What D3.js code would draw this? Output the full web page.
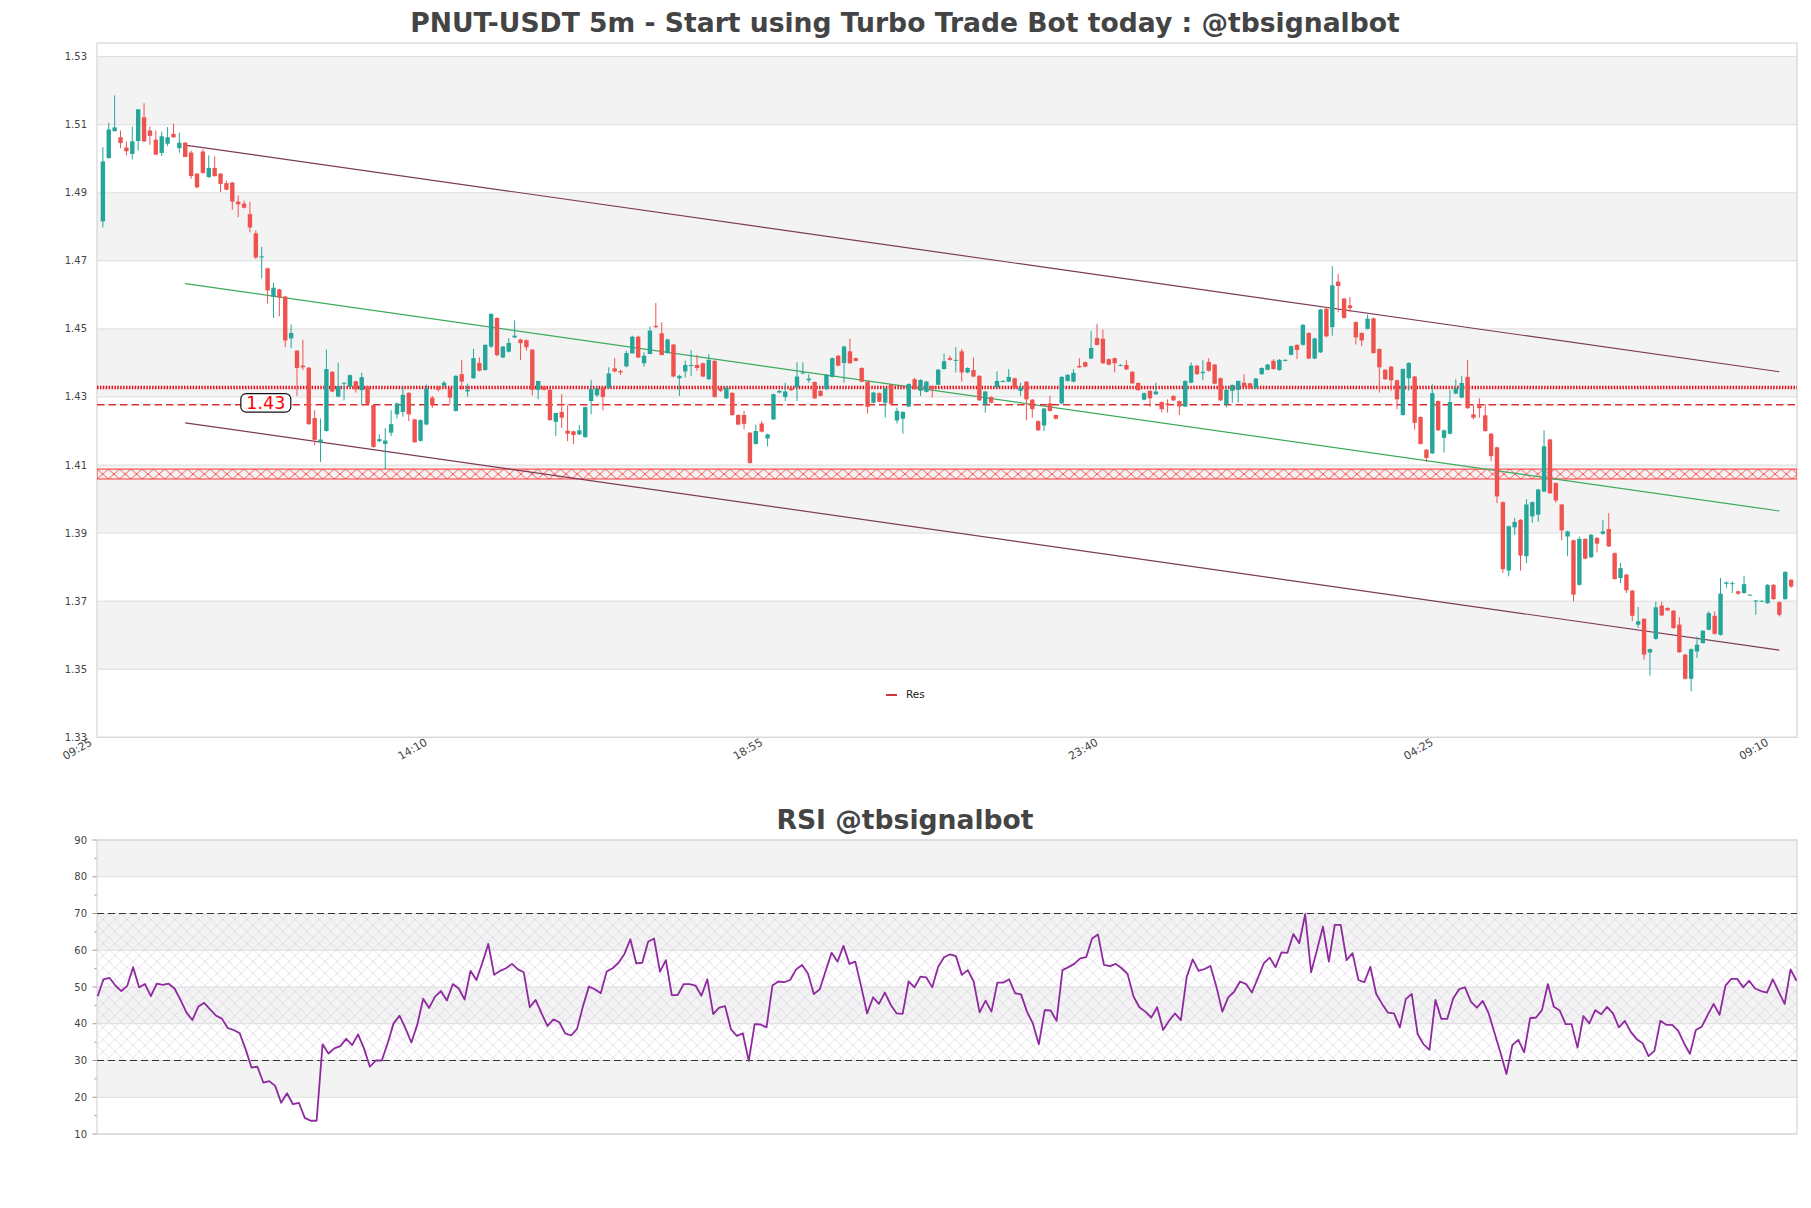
<!DOCTYPE html>
<html><head><meta charset="utf-8">
<script src="https://cdn.jsdelivr.net/npm/d3@7"></script>
<style>body{margin:0;background:#fff;} svg{display:block;font-family:"DejaVu Sans",sans-serif;}</style>
</head><body><svg id="c" width="1811" height="1208"></svg>
<script>
// ---------- DATA ----------
const open=[
1.4816,1.5002,1.5081,1.5063,1.5033,1.5014,1.5052,1.5122,1.5083,1.5056,
1.5017,1.5044,1.5073,1.5031,1.5047,1.5018,1.4956,1.5021,1.4946,1.4973,
1.4956,1.4928,1.4930,1.4874,1.4868,1.4837,1.4781,1.4710,1.4678,1.4594,
1.4616,1.4595,1.4472,1.4436,1.4392,1.4386,1.4238,1.4168,1.4200,1.4374,
1.4301,1.4340,1.4330,1.4346,1.4320,1.4331,1.4276,1.4170,1.4162,1.4195,
1.4249,1.4256,1.4312,1.4234,1.4171,1.4219,1.4298,1.4328,1.4333,1.4323,
1.4259,1.4367,1.4316,1.4355,1.4400,1.4379,1.4448,1.4532,1.4416,1.4433,
1.4475,1.4469,1.4467,1.4439,1.4321,1.4331,1.4321,1.4227,1.4256,1.4201,
1.4199,1.4190,1.4182,1.4288,1.4305,1.4328,1.4326,1.4384,1.4376,1.4390,
1.4428,1.4477,1.4399,1.4426,1.4509,1.4487,1.4429,1.4454,1.4355,1.4375,
1.4391,1.4394,1.4399,1.4352,1.4406,1.4326,1.4296,1.4312,1.4247,1.4247,
1.4195,1.4162,1.4222,1.4178,1.4234,1.4313,1.4300,1.4325,1.4328,1.4369,
1.4349,1.4344,1.4318,1.4323,1.4359,1.4421,1.4400,1.4434,1.4414,1.4385,
1.4345,1.4283,1.4311,1.4283,1.4336,1.4231,1.4236,1.4272,1.4352,1.4318,
1.4315,1.4332,1.4336,1.4382,1.4414,1.4406,1.4434,1.4372,1.4379,1.4362,
1.4278,1.4300,1.4328,1.4345,1.4345,1.4355,1.4318,1.4345,1.4292,1.4229,
1.4216,1.4281,1.4247,1.4281,1.4347,1.4345,1.4391,1.4402,1.4413,1.4473,
1.4471,1.4411,1.4414,1.4392,1.4394,1.4374,1.4341,1.4292,1.4318,1.4308,
1.4285,1.4281,1.4303,1.4288,1.4272,1.4342,1.4392,1.4370,1.4403,1.4395,
1.4355,1.4278,1.4318,1.4321,1.4342,1.4340,1.4326,1.4367,1.4380,1.4406,
1.4379,1.4406,1.4424,1.4453,1.4453,1.4488,1.4413,1.4431,1.4559,1.4505,
1.4639,1.4589,1.4569,1.4520,1.4488,1.4500,1.4531,1.4441,1.4380,1.4389,
1.4349,1.4247,1.4355,1.4360,1.4241,1.4145,1.4134,1.4288,1.4180,1.4192,
1.4310,1.4298,1.4359,1.4249,1.4275,1.4246,1.4192,1.4152,1.3991,1.3790,
1.3917,1.3939,1.3832,1.3949,1.3954,1.4022,1.4175,1.4047,1.3984,1.3890,
1.3879,1.3748,1.3883,1.3829,1.3886,1.3898,1.3912,1.3841,1.3768,1.3778,
1.3731,1.3631,1.3648,1.3549,1.3589,1.3687,1.3680,1.3672,1.3631,1.3543,
1.3472,1.3552,1.3577,1.3616,1.3657,1.3601,1.3751,1.3750,1.3729,1.3724,
1.3719,1.3702,1.3701,1.3694,1.3748,1.3697,1.3706,1.3763];
const high=[
1.5034,1.5106,1.5186,1.5083,1.5051,1.5095,1.5145,1.5163,1.5095,1.5083,
1.5080,1.5093,1.5103,1.5076,1.5049,1.5024,1.4958,1.5028,1.5010,1.5007,
1.4958,1.4936,1.4932,1.4892,1.4877,1.4873,1.4790,1.4741,1.4680,1.4636,
1.4618,1.4597,1.4513,1.4438,1.4468,1.4388,1.4261,1.4237,1.4439,1.4376,
1.4401,1.4343,1.4366,1.4348,1.4371,1.4333,1.4278,1.4190,1.4208,1.4261,
1.4283,1.4331,1.4314,1.4236,1.4234,1.4337,1.4303,1.4333,1.4347,1.4328,
1.4364,1.4409,1.4339,1.4441,1.4416,1.4455,1.4546,1.4534,1.4450,1.4473,
1.4525,1.4471,1.4469,1.4441,1.4347,1.4333,1.4323,1.4253,1.4308,1.4275,
1.4201,1.4217,1.4272,1.4350,1.4330,1.4328,1.4387,1.4414,1.4380,1.4436,
1.4480,1.4480,1.4431,1.4507,1.4576,1.4519,1.4471,1.4456,1.4365,1.4407,
1.4438,1.4423,1.4401,1.4426,1.4408,1.4330,1.4330,1.4314,1.4249,1.4259,
1.4197,1.4219,1.4229,1.4192,1.4310,1.4320,1.4342,1.4327,1.4402,1.4402,
1.4367,1.4346,1.4320,1.4367,1.4416,1.4423,1.4451,1.4471,1.4416,1.4387,
1.4347,1.4315,1.4313,1.4327,1.4338,1.4269,1.4258,1.4340,1.4357,1.4352,
1.4347,1.4334,1.4382,1.4428,1.4421,1.4446,1.4441,1.4387,1.4416,1.4364,
1.4318,1.4302,1.4375,1.4349,1.4382,1.4357,1.4342,1.4347,1.4294,1.4231,
1.4268,1.4303,1.4249,1.4361,1.4367,1.4382,1.4414,1.4404,1.4493,1.4515,
1.4498,1.4413,1.4416,1.4396,1.4408,1.4376,1.4343,1.4313,1.4320,1.4342,
1.4287,1.4293,1.4305,1.4290,1.4349,1.4402,1.4394,1.4408,1.4414,1.4397,
1.4357,1.4323,1.4337,1.4349,1.4367,1.4342,1.4356,1.4387,1.4397,1.4411,
1.4411,1.4411,1.4451,1.4455,1.4514,1.4490,1.4474,1.4559,1.4564,1.4684,
1.4661,1.4591,1.4594,1.4522,1.4490,1.4542,1.4533,1.4443,1.4382,1.4391,
1.4351,1.4384,1.4402,1.4362,1.4243,1.4147,1.4337,1.4290,1.4204,1.4320,
1.4352,1.4362,1.4409,1.4278,1.4296,1.4278,1.4194,1.4154,1.3993,1.3922,
1.3944,1.3941,1.4000,1.3993,1.4030,1.4202,1.4177,1.4049,1.3986,1.3907,
1.3881,1.3890,1.3885,1.3897,1.3888,1.3939,1.3959,1.3843,1.3812,1.3780,
1.3733,1.3683,1.3650,1.3561,1.3699,1.3699,1.3682,1.3674,1.3653,1.3545,
1.3561,1.3596,1.3615,1.3670,1.3670,1.3768,1.3758,1.3758,1.3731,1.3775,
1.3720,1.3703,1.3702,1.3750,1.3750,1.3699,1.3788,1.3765];
const low=[
1.4798,1.5000,1.5080,1.5031,1.5010,1.4998,1.5024,1.5049,1.5041,1.5012,
1.5008,1.5037,1.5061,1.5018,1.5005,1.4941,1.4913,1.4956,1.4944,1.4947,
1.4902,1.4907,1.4850,1.4828,1.4854,1.4784,1.4705,1.4648,1.4574,1.4532,
1.4537,1.4446,1.4443,1.4303,1.4379,1.4218,1.4158,1.4109,1.4198,1.4314,
1.4299,1.4290,1.4328,1.4313,1.4278,1.4278,1.4151,1.4168,1.4088,1.4185,
1.4237,1.4242,1.4229,1.4165,1.4169,1.4217,1.4268,1.4316,1.4328,1.4280,
1.4257,1.4321,1.4301,1.4353,1.4375,1.4377,1.4444,1.4419,1.4414,1.4431,
1.4473,1.4408,1.4436,1.4305,1.4293,1.4319,1.4230,1.4185,1.4209,1.4170,
1.4162,1.4188,1.4180,1.4249,1.4300,1.4261,1.4326,1.4372,1.4365,1.4387,
1.4428,1.4414,1.4389,1.4426,1.4503,1.4423,1.4427,1.4358,1.4303,1.4357,
1.4362,1.4377,1.4358,1.4350,1.4298,1.4315,1.4294,1.4245,1.4217,1.4205,
1.4104,1.4160,1.4196,1.4155,1.4232,1.4311,1.4288,1.4318,1.4288,1.4367,
1.4342,1.4294,1.4301,1.4321,1.4357,1.4390,1.4342,1.4397,1.4404,1.4343,
1.4251,1.4281,1.4284,1.4239,1.4278,1.4222,1.4192,1.4270,1.4321,1.4303,
1.4313,1.4298,1.4334,1.4380,1.4407,1.4372,1.4345,1.4370,1.4358,1.4288,
1.4254,1.4281,1.4326,1.4343,1.4343,1.4323,1.4303,1.4232,1.4239,1.4200,
1.4200,1.4257,1.4234,1.4279,1.4345,1.4343,1.4385,1.4387,1.4411,1.4451,
1.4397,1.4393,1.4372,1.4390,1.4379,1.4338,1.4318,1.4290,1.4271,1.4306,
1.4254,1.4254,1.4288,1.4247,1.4270,1.4340,1.4365,1.4349,1.4374,1.4337,
1.4288,1.4269,1.4283,1.4283,1.4329,1.4324,1.4324,1.4365,1.4378,1.4380,
1.4377,1.4404,1.4422,1.4411,1.4451,1.4411,1.4411,1.4429,1.4475,1.4480,
1.4549,1.4530,1.4549,1.4454,1.4449,1.4498,1.4427,1.4313,1.4350,1.4318,
1.4264,1.4245,1.4318,1.4204,1.4160,1.4109,1.4132,1.4200,1.4136,1.4190,
1.4308,1.4296,1.4265,1.4234,1.4239,1.4198,1.4111,1.3988,1.3783,1.3773,
1.3895,1.3790,1.3812,1.3930,1.3933,1.4020,1.4015,1.3990,1.3879,1.3832,
1.3699,1.3746,1.3823,1.3827,1.3843,1.3895,1.3859,1.3763,1.3753,1.3724,
1.3641,1.3621,1.3528,1.3481,1.3587,1.3656,1.3671,1.3619,1.3548,1.3470,
1.3435,1.3533,1.3575,1.3614,1.3602,1.3599,1.3739,1.3724,1.3718,1.3722,
1.3718,1.3660,1.3700,1.3692,1.3704,1.3655,1.3704,1.3739];
const close=[
1.4992,1.5086,1.5092,1.5046,1.5022,1.5051,1.5145,1.5051,1.5067,1.5012,
1.5066,1.5063,1.5063,1.5047,1.5005,1.4949,1.4916,1.4958,1.4973,1.4949,
1.4926,1.4909,1.4874,1.4866,1.4856,1.4798,1.4710,1.4713,1.4613,1.4621,
1.4592,1.4466,1.4488,1.4385,1.4387,1.4220,1.4174,1.4175,1.4382,1.4316,
1.4332,1.4342,1.4364,1.4322,1.4358,1.4280,1.4153,1.4176,1.4172,1.4220,
1.4281,1.4306,1.4249,1.4167,1.4232,1.4325,1.4278,1.4321,1.4342,1.4298,
1.4362,1.4345,1.4321,1.4414,1.4377,1.4453,1.4544,1.4423,1.4448,1.4459,
1.4480,1.4458,1.4446,1.4321,1.4347,1.4321,1.4232,1.4253,1.4239,1.4192,
1.4188,1.4202,1.4270,1.4323,1.4325,1.4300,1.4369,1.4375,1.4372,1.4429,
1.4477,1.4416,1.4421,1.4495,1.4505,1.4423,1.4469,1.4360,1.4362,1.4394,
1.4394,1.4385,1.4360,1.4409,1.4300,1.4318,1.4328,1.4247,1.4219,1.4221,
1.4106,1.4200,1.4198,1.4190,1.4308,1.4318,1.4316,1.4320,1.4360,1.4372,
1.4354,1.4296,1.4303,1.4365,1.4414,1.4392,1.4448,1.4399,1.4406,1.4345,
1.4271,1.4313,1.4286,1.4325,1.4280,1.4259,1.4256,1.4338,1.4323,1.4350,
1.4345,1.4323,1.4380,1.4405,1.4409,1.4409,1.4372,1.4385,1.4360,1.4290,
1.4316,1.4283,1.4347,1.4347,1.4359,1.4325,1.4328,1.4293,1.4264,1.4202,
1.4266,1.4259,1.4236,1.4359,1.4365,1.4371,1.4387,1.4389,1.4444,1.4453,
1.4399,1.4395,1.4399,1.4394,1.4381,1.4340,1.4320,1.4311,1.4296,1.4316,
1.4264,1.4277,1.4290,1.4272,1.4347,1.4392,1.4367,1.4374,1.4377,1.4339,
1.4290,1.4321,1.4335,1.4347,1.4331,1.4326,1.4354,1.4385,1.4395,1.4382,
1.4409,1.4409,1.4449,1.4438,1.4512,1.4413,1.4472,1.4557,1.4478,1.4628,
1.4626,1.4532,1.4561,1.4475,1.4466,1.4530,1.4429,1.4387,1.4352,1.4349,
1.4293,1.4382,1.4400,1.4224,1.4162,1.4121,1.4311,1.4202,1.4202,1.4285,
1.4326,1.4341,1.4267,1.4239,1.4267,1.4200,1.4126,1.4008,1.3794,1.3920,
1.3933,1.3834,1.3984,1.3991,1.4028,1.4155,1.4017,1.3996,1.3908,1.3905,
1.3719,1.3883,1.3825,1.3895,1.3869,1.3905,1.3861,1.3765,1.3797,1.3732,
1.3657,1.3641,1.3543,1.3559,1.3682,1.3658,1.3673,1.3621,1.3550,1.3472,
1.3559,1.3572,1.3613,1.3665,1.3604,1.3722,1.3755,1.3753,1.3722,1.3750,
1.3719,1.3702,1.3701,1.3748,1.3706,1.3660,1.3786,1.3743];
const rsi=[
47.5,52.1,52.5,50.4,48.9,50.3,55.4,49.9,50.8,47.5,
50.9,50.6,50.9,49.6,46.5,43.1,41.0,44.6,45.7,43.9,
42.2,41.4,38.8,38.3,37.4,33.1,28.1,28.3,24.0,24.4,
23.1,18.5,21.1,18.1,18.5,14.4,13.6,13.6,34.4,31.9,
33.3,33.9,35.9,34.2,37.1,33.3,28.3,30.0,30.0,34.7,
40.1,42.2,38.8,34.9,39.7,46.8,44.3,47.4,48.9,46.3,
50.8,49.6,46.6,54.4,51.9,56.6,61.7,53.3,54.4,55.1,
56.3,54.8,54.0,44.5,46.5,42.8,39.4,41.2,40.4,37.4,
36.8,38.6,44.8,50.1,49.4,48.3,54.2,55.1,56.6,59.0,
63.0,56.4,56.6,62.3,63.2,54.2,57.3,47.8,47.8,50.8,
50.8,50.4,47.6,52.1,42.6,44.4,44.8,38.5,36.7,37.4,
29.9,39.9,39.8,39.0,50.4,51.5,51.3,51.9,54.8,56.0,
53.7,48.1,49.4,54.4,59.3,56.9,61.2,56.3,56.9,50.1,
42.8,47.2,45.4,48.5,45.1,42.8,42.7,51.5,49.9,52.8,
52.6,49.9,55.5,58.1,58.9,58.4,53.3,54.6,51.5,43.1,
46.3,43.3,51.2,51.2,52.1,48.3,48.0,43.3,40.1,34.4,
43.7,43.6,40.8,54.6,55.4,56.3,57.8,58.1,63.2,64.3,
56.0,55.7,56.3,55.1,53.5,47.4,44.5,43.3,41.7,44.5,
38.3,40.8,42.8,41.0,52.8,57.5,54.4,54.9,55.7,50.1,
43.3,47.2,48.7,51.5,50.8,48.5,52.4,56.4,58.0,55.4,
59.4,59.3,64.4,61.9,69.8,54.0,60.1,66.4,56.9,66.9,
66.9,57.3,59.2,51.9,51.3,55.5,48.1,45.4,43.0,42.8,
39.0,46.7,48.1,37.2,34.4,32.9,46.5,41.3,41.3,46.9,
49.4,49.9,46.0,44.4,46.2,42.8,37.4,32.1,26.3,34.2,
35.6,32.2,41.5,41.7,43.7,50.8,44.6,43.6,39.9,39.9,
33.5,42.1,40.1,43.7,42.6,44.6,42.8,39.0,40.8,37.8,
35.8,34.7,31.2,32.6,40.8,39.7,39.7,38.1,34.7,31.8,
38.3,39.2,42.4,45.4,42.4,50.4,52.2,52.2,49.9,51.7,
49.6,48.9,48.5,52.1,48.7,45.4,54.8,51.7];
const timeTickIndex=[0,57,114,171,228,285];
const timeTickLabels=["09:25","14:10","18:55","23:40","04:25","09:10"];
const priceTicks=[1.33,1.35,1.37,1.39,1.41,1.43,1.45,1.47,1.49,1.51,1.53];
const rsiTicks=[10,20,30,40,50,60,70,80,90];
const upperChannel=[[14,1.5040],[285,1.4374]];
const midChannel=[[14,1.4633],[285,1.3965]];
const lowerChannel=[[14,1.4224],[285,1.3556]];
const resDotted=1.4328, resDashed=1.4277, resLabel="1.43";
const zoneLow=1.4059, zoneHigh=1.4088;
const rsiUpper=70, rsiLower=30;
const mainTitle="PNUT-USDT 5m - Start using Turbo Trade Bot today : @tbsignalbot";
const rsiTitle="RSI @tbsignalbot";
const legendLabel="Res";

// ---------- LAYOUT ----------
const svg=d3.select("#c");
const defs=svg.append("defs");
const n=Math.min(open.length,high.length,low.length,close.length);
const M={l:97,r:1797,t:43,b:737.3};
const R={l:97,r:1797,t:840,b:1134};
const mx=d3.scaleLinear().domain([-1,288]).range([M.l,M.r]);
const my=d3.scaleLinear().domain([1.33,1.534]).range([M.b,M.t]);
const rx=d3.scaleLinear().domain([0,rsi.length-1]).range([97.6,1796.5]);
const ry=d3.scaleLinear().domain([10,90]).range([R.b,R.t]);
const GRAY="#f3f3f3", GRID="#dddddd", FRAME="#d6d6d6", TXT="#444";
const UP="#26a69a", DN="#ef5350";

svg.append("rect").attr("width",1811).attr("height",1208).attr("fill","#fff");

// titles
svg.append("text").attr("x",905).attr("y",32).attr("text-anchor","middle")
  .attr("font-size",26.6).attr("font-weight","bold").attr("fill",TXT).text(mainTitle);
svg.append("text").attr("x",905).attr("y",829).attr("text-anchor","middle")
  .attr("font-size",26.6).attr("font-weight","bold").attr("fill",TXT).text(rsiTitle);

// ---------- MAIN ----------
const gm=svg.append("g");
for(let k=0;k<priceTicks.length-1;k++){
  gm.append("rect").attr("x",M.l).attr("width",M.r-M.l)
    .attr("y",my(priceTicks[k+1])).attr("height",my(priceTicks[k])-my(priceTicks[k+1]))
    .attr("fill",k%2===1?GRAY:"#fff");
}
priceTicks.forEach(p=>{
  gm.append("line").attr("x1",M.l).attr("x2",M.r).attr("y1",my(p)).attr("y2",my(p))
    .attr("stroke",GRID).attr("stroke-width",1);
  gm.append("text").attr("x",M.l-10).attr("y",my(p)+3.5).attr("text-anchor","end")
    .attr("font-size",10).attr("fill",TXT).text(p.toFixed(2));
});
gm.append("rect").attr("x",M.l).attr("y",M.t).attr("width",M.r-M.l).attr("height",M.b-M.t)
  .attr("fill","none").attr("stroke",FRAME).attr("stroke-width",1.2);

defs.append("clipPath").attr("id","mclip").append("rect")
  .attr("x",M.l).attr("y",M.t).attr("width",M.r-M.l).attr("height",M.b-M.t);
const gc=svg.append("g").attr("clip-path","url(#mclip)");

// hatched zone
const zt=my(zoneHigh), zb=my(zoneLow), zh=zb-zt, zw=11.3;
const zp=defs.append("pattern").attr("id","zoneHatch").attr("patternUnits","userSpaceOnUse")
  .attr("x",M.l).attr("y",zt).attr("width",zw).attr("height",zh);
zp.append("path").attr("d",`M0,0L${zw},${zh}M0,${zh}L${zw},0`).attr("stroke","#ff2a2a")
  .attr("stroke-width",0.8).attr("fill","none");
gc.append("rect").attr("x",M.l).attr("y",zt).attr("width",M.r-M.l).attr("height",zh)
  .attr("fill","url(#zoneHatch)").attr("stroke","#ff3030").attr("stroke-width",1);

// channel lines
const chan=(pts,col,w)=>gc.append("line").attr("x1",mx(pts[0][0])).attr("y1",my(pts[0][1]))
  .attr("x2",mx(pts[1][0])).attr("y2",my(pts[1][1])).attr("stroke",col).attr("stroke-width",w);
chan(upperChannel,"#7d3b58",1.2);
chan(lowerChannel,"#7d3b58",1.2);
chan(midChannel,"#3daa5c",1.2);

// resistance lines
gc.append("line").attr("x1",M.l).attr("x2",M.r).attr("y1",my(resDotted)).attr("y2",my(resDotted))
  .attr("stroke","#e8101a").attr("stroke-width",3.4).attr("stroke-dasharray","1.5 1.4");
gc.append("line").attr("x1",M.l).attr("x2",M.r).attr("y1",my(resDashed)).attr("y2",my(resDashed))
  .attr("stroke","#dd3030").attr("stroke-width",1.4).attr("stroke-dasharray","7.5 4");

// candles
const idx=d3.range(n);
const cg=gc.append("g");
cg.selectAll("line.w").data(idx).join("line").attr("class","w")
  .attr("x1",i=>mx(i)).attr("x2",i=>mx(i)).attr("y1",i=>my(high[i])).attr("y2",i=>my(low[i]))
  .attr("stroke",i=>close[i]>=open[i]?UP:DN).attr("stroke-width",1);
cg.selectAll("rect.b").data(idx).join("rect").attr("class","b")
  .attr("x",i=>mx(i)-2.2).attr("width",4.4)
  .attr("y",i=>my(Math.max(open[i],close[i])))
  .attr("height",i=>Math.max(1,Math.abs(my(open[i])-my(close[i]))))
  .attr("fill",i=>close[i]>=open[i]?UP:DN);

// label box (on top)
const gt=svg.append("g");
const lx=mx(27.7), ly=my(resDashed)-2;
gt.append("rect").attr("x",lx-25).attr("y",ly-9.2).attr("width",50).attr("height",18.6)
  .attr("rx",5.5).attr("fill","#fff").attr("stroke","#111").attr("stroke-width",1.2);
gt.append("text").attr("x",lx).attr("y",ly+6.4).attr("text-anchor","middle")
  .attr("font-size",17.5).attr("fill","#ff0000").text(resLabel);

// legend
gt.append("line").attr("x1",886).attr("x2",897).attr("y1",695).attr("y2",695)
  .attr("stroke","#cc2027").attr("stroke-width",1.8);
gt.append("text").attr("x",906).attr("y",698.3).attr("font-size",10.5).attr("fill","#222").text(legendLabel);

// x labels
timeTickIndex.forEach((ti,k)=>{
  gt.append("text").attr("transform",`translate(${mx(ti)-10},744.5) rotate(-30)`)
    .attr("text-anchor","end").attr("font-size",11).attr("fill",TXT).text(timeTickLabels[k]);
});

// ---------- RSI ----------
const gr=svg.append("g");
for(let k=0;k<rsiTicks.length-1;k++){
  gr.append("rect").attr("x",R.l).attr("width",R.r-R.l)
    .attr("y",ry(rsiTicks[k+1])).attr("height",ry(rsiTicks[k])-ry(rsiTicks[k+1]))
    .attr("fill",k%2===1?GRAY:"#fff");
}
const hp=defs.append("pattern").attr("id","rsiHatch").attr("patternUnits","userSpaceOnUse")
  .attr("x",R.l).attr("y",ry(rsiUpper)).attr("width",12).attr("height",12);
hp.append("path").attr("d","M0,0L12,12M0,12L12,0").attr("stroke","#d0c3da")
  .attr("stroke-width",0.6).attr("fill","none").attr("opacity",0.85);
gr.append("rect").attr("x",R.l).attr("y",ry(rsiUpper)).attr("width",R.r-R.l)
  .attr("height",ry(rsiLower)-ry(rsiUpper)).attr("fill","url(#rsiHatch)");
rsiTicks.forEach(v=>{
  gr.append("line").attr("x1",R.l).attr("x2",R.r).attr("y1",ry(v)).attr("y2",ry(v))
    .attr("stroke",GRID).attr("stroke-width",1);
  gr.append("line").attr("x1",R.l-4.5).attr("x2",R.l).attr("y1",ry(v)).attr("y2",ry(v))
    .attr("stroke","#999").attr("stroke-width",1);
  gr.append("text").attr("x",R.l-10).attr("y",ry(v)+3.5).attr("text-anchor","end")
    .attr("font-size",10).attr("fill",TXT).text(v);
});
d3.range(15,90,10).forEach(v=>{
  gr.append("line").attr("x1",R.l-2.5).attr("x2",R.l).attr("y1",ry(v)).attr("y2",ry(v))
    .attr("stroke","#999").attr("stroke-width",1);
});
gr.append("rect").attr("x",R.l).attr("y",R.t).attr("width",R.r-R.l).attr("height",R.b-R.t)
  .attr("fill","none").attr("stroke",FRAME).attr("stroke-width",1.2);
[rsiUpper,rsiLower].forEach(v=>{
  gr.append("line").attr("x1",R.l).attr("x2",R.r).attr("y1",ry(v)).attr("y2",ry(v))
    .attr("stroke","#333").attr("stroke-width",1.2).attr("stroke-dasharray","7 4");
});
gr.append("path").datum(rsi).attr("fill","none").attr("stroke","#8e2a9e").attr("stroke-width",1.8)
  .attr("stroke-linejoin","round")
  .attr("d",d3.line().x((d,i)=>rx(i)).y(d=>ry(d)));
</script></body></html>
